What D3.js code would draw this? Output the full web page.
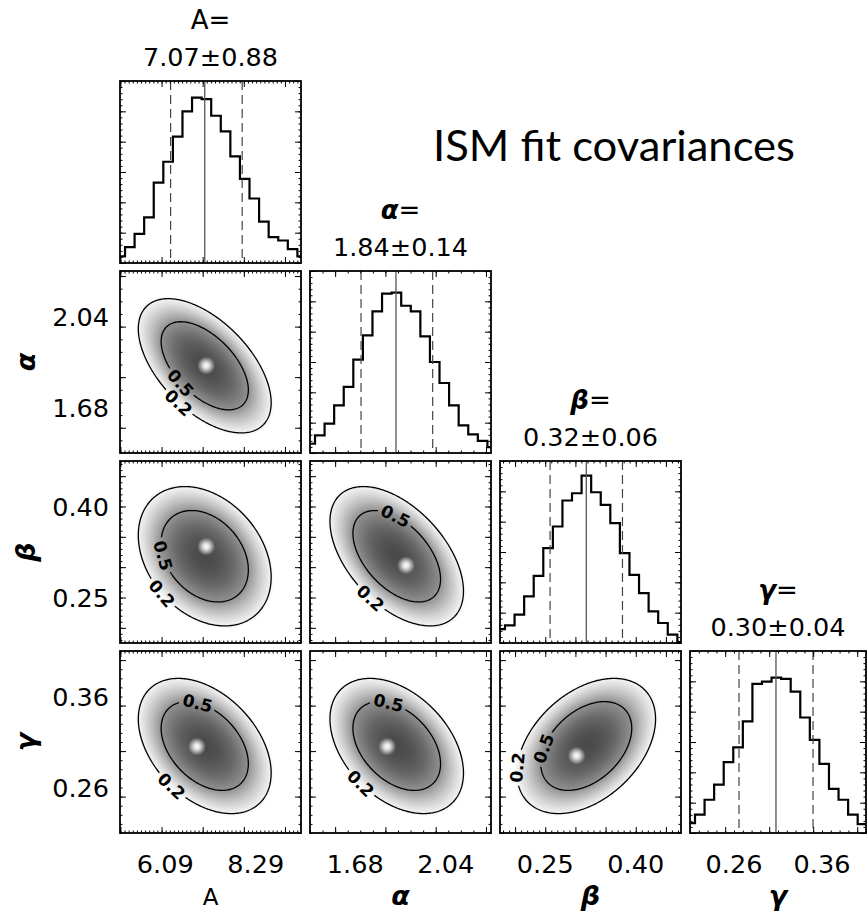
<!DOCTYPE html>
<html><head><meta charset="utf-8">
<script src="https://cdnjs.cloudflare.com/ajax/libs/d3/7.8.5/d3.min.js"></script>
<style>body{margin:0;background:#fff}svg{display:block}</style>
</head><body>
<svg id="c" width="867" height="913"></svg>
<script>
// ---------------- DATA ----------------
const paramNames = ["A", "α", "β", "γ"];
const paramGreek = [false, true, true, true];
const domains = [[4.99, 9.39], [1.50, 2.22], [0.175, 0.475], [0.21, 0.41]];
const tickLabelValues = [[6.09, 8.29], [1.68, 2.04], [0.25, 0.40], [0.26, 0.36]];
const tickLabelText = [["6.09", "8.29"], ["1.68", "2.04"], ["0.25", "0.40"], ["0.26", "0.36"]];
const majorStep = [1, 0.2, 0.05, 0.05];
const minorStep = [0.1, 0.05, 0.01, 0.01];
const summaryText = ["7.07±0.88", "1.84±0.14", "0.32±0.06", "0.30±0.04"];
const medians = [7.05, 1.842, 0.318, 0.3077];
const lowerQ = [6.22, 1.703, 0.258, 0.2657];
const upperQ = [7.96, 1.988, 0.378, 0.3498];
const binStart = [4.879, 1.4818, 0.1674, 0.2048];
const binWidth = [0.2328, 0.0381, 0.01587, 0.010875];
const histA     = [218, 524, 960, 1506, 2651, 3338, 4168, 4997, 5455, 5400, 4855, 4342, 3513, 2771, 2127, 1364, 851, 742, 458, 218];
const histAlpha = [305, 584, 966, 1571, 2177, 3077, 3879, 4669, 5253, 5286, 4855, 4669, 3846, 3000, 2307, 1571, 911, 616, 398, 196];
const histBeta  = [458, 584, 933, 1538, 2215, 3126, 3840, 4697, 4937, 5520, 4970, 4555, 3949, 2962, 2247, 1647, 1042, 660, 273, 30];
const histGamma = [327, 606, 1096, 1593, 2335, 2820, 3677, 4915, 4991, 5122, 5079, 4664, 3808, 3071, 2280, 1456, 1096, 606, 295];
const histCountMax = 6000;
const histCountMajor = 1000;
const histCountMinor = 200;
// 2D panels (x param, y param)
const pairX = [0, 0, 1, 0, 1, 2];
const pairY = [1, 2, 2, 3, 3, 3];
const pairRho = [-0.55, -0.30, -0.50, -0.40, -0.40, 0.40];
const densitySigma = [0.90, 0.148, 0.064, 0.0414];
const densityCenter = [7.05, 1.845, 0.318, 0.3056];
const peakX = [7.086, 7.086, 1.882, 6.86, 1.807, 0.302];
const peakY = [1.846, 0.334, 0.303, 0.305, 0.305, 0.295];
const contourLevels = [0.2, 0.5];
const contourLabels = ["0.2", "0.5"];
const titleText = "ISM fit covariances";

// ---------------- LAYOUT ----------------
const W = 867, H = 913;
const colLeft = [120, 310, 500, 690], colWidth = [181, 181, 181, 176];
const rowTop = [81, 271, 461, 651], rowHeight = 182;
// label anchor direction (deg, screen) for [0.2, 0.5] contour labels
const labelDir = [[125, 145], [139, 190], [122, -92], [130, -100], [134, -101], [163, 177]];
const FONT = "'DejaVu Sans', sans-serif";

const svg = d3.select("#c");
const defs = svg.append("defs");
const xS = domains.map((d, i) => d3.scaleLinear().domain(d).range([colLeft[i], colLeft[i] + colWidth[i]]));
const yS = domains.map((d, i) => d3.scaleLinear().domain(d).range([rowTop[i] + rowHeight, rowTop[i]]));

function tickVals(domain, step) {
  const a = Math.ceil(domain[0] / step - 1e-6), b = Math.floor(domain[1] / step + 1e-6);
  return d3.range(a, b + 1).map(k => +(k * step).toFixed(6));
}
function addAxes(g, xs, ys, xM, xm, yM, ym, x0, x1, y0, y1) {
  const specs = [
    [d3.axisBottom(xs), `translate(0,${y1})`, xM, xm],
    [d3.axisTop(xs), `translate(0,${y0})`, xM, xm],
    [d3.axisLeft(ys), `translate(${x0},0)`, yM, ym],
    [d3.axisRight(ys), `translate(${x1},0)`, yM, ym]];
  specs.forEach(([ax, tr, M, m]) => {
    [[m, 2.5], [M, 6]].forEach(([vals, len]) => {
      const a = g.append("g").attr("transform", tr)
        .call(ax.tickValues(vals).tickSize(-len).tickSizeOuter(0).tickFormat(""));
      a.select(".domain").remove();
      a.selectAll("line").attr("stroke", "#000").attr("stroke-width", 1);
    });
  });
}
function clipFor(id, x0, y0, w, h) {
  defs.append("clipPath").attr("id", id).append("rect").attr("x", x0).attr("y", y0).attr("width", w).attr("height", h);
  return `url(#${id})`;
}

const rg = defs.append("radialGradient").attr("id", "spot");
rg.append("stop").attr("offset", "0%").attr("stop-color", "#fff").attr("stop-opacity", 1);
rg.append("stop").attr("offset", "35%").attr("stop-color", "#fff").attr("stop-opacity", 0.8);
rg.append("stop").attr("offset", "100%").attr("stop-color", "#fff").attr("stop-opacity", 0);

// ---------------- HISTOGRAMS ----------------
const hists = [histA, histAlpha, histBeta, histGamma];
hists.forEach((counts, i) => {
  const x0 = colLeft[i], w = colWidth[i], y0 = rowTop[i], h = rowHeight;
  const xs = xS[i];
  const ys = d3.scaleLinear().domain([0, histCountMax]).range([y0 + h, y0]);
  const g = svg.append("g");
  const clip = clipFor("hc" + i, x0, y0, w, h);
  const pts = [[binStart[i], 0]];
  counts.forEach((c, k) => pts.push([binStart[i] + k * binWidth[i], c]));
  pts.push([binStart[i] + counts.length * binWidth[i], 0]);
  const line = d3.line().x(d => xs(d[0])).y(d => ys(d[1])).curve(d3.curveStepAfter);
  const gc = g.append("g").attr("clip-path", clip);
  gc.append("path").attr("d", line(pts)).attr("fill", "none").attr("stroke", "#000").attr("stroke-width", 2.2);
  [lowerQ[i], upperQ[i]].forEach(v => {
    gc.append("line").attr("x1", xs(v)).attr("x2", xs(v)).attr("y1", y0).attr("y2", y0 + h)
      .attr("stroke", "#444").attr("stroke-width", 1.2).attr("stroke-dasharray", "9,5");
  });
  gc.append("line").attr("x1", xs(medians[i])).attr("x2", xs(medians[i])).attr("y1", y0).attr("y2", y0 + h)
    .attr("stroke", "#555").attr("stroke-width", 1.3);
  addAxes(g, xs, ys, tickVals(domains[i], majorStep[i]), tickVals(domains[i], minorStep[i]),
    d3.range(0, histCountMax + 1, histCountMajor), d3.range(0, histCountMax + 1, histCountMinor),
    x0, x0 + w, y0, y0 + h);
  g.append("rect").attr("x", x0).attr("y", y0).attr("width", w).attr("height", h)
    .attr("fill", "none").attr("stroke", "#000").attr("stroke-width", 1.8);
  const cx = x0 + w / 2;
  const t1 = g.append("text").attr("x", cx).attr("y", y0 - 52).attr("text-anchor", "middle")
    .attr("font-family", FONT).attr("font-size", 26);
  t1.append("tspan").text(paramNames[i])
    .attr("font-weight", paramGreek[i] ? "bold" : "normal").attr("font-style", paramGreek[i] ? "italic" : "normal");
  t1.append("tspan").text("=");
  g.append("text").attr("x", cx).attr("y", y0 - 15).attr("text-anchor", "middle")
    .attr("font-family", FONT).attr("font-size", 25.5).text(summaryText[i]);
});

// ---------------- 2D DENSITY PANELS ----------------
const grayScale = d3.scaleLinear().domain([0, 0.17, 0.2, 0.3, 0.5, 0.75, 1])
  .range([255, 255, 243, 210, 145, 104, 74]).clamp(true);

pairX.forEach((pi, p) => {
  const pj = pairY[p];
  const xs = xS[pi], ys = yS[pj];
  const x0 = colLeft[pi], w = colWidth[pi], y0 = rowTop[pj], h = rowHeight;
  const sx = densitySigma[pi], sy = densitySigma[pj], rho = pairRho[p];
  const mx = densityCenter[pi], my = densityCenter[pj];
  const dens = (vx, vy) => {
    const zx = (vx - mx) / sx, zy = (vy - my) / sy;
    const q = (zx * zx - 2 * rho * zx * zy + zy * zy) / (1 - rho * rho);
    return Math.exp(-0.5 * q);
  };
  const values = new Float64Array(w * h);
  const canvas = document.createElement("canvas");
  canvas.width = w; canvas.height = h;
  const ctx = canvas.getContext("2d");
  const img = ctx.createImageData(w, h);
  for (let j = 0; j < h; j++) {
    const vy = ys.invert(y0 + j + 0.5);
    for (let i = 0; i < w; i++) {
      const d = dens(xs.invert(x0 + i + 0.5), vy);
      values[i + j * w] = d;
      const gv = Math.round(grayScale(d));
      const k = 4 * (i + j * w);
      img.data[k] = img.data[k + 1] = img.data[k + 2] = gv; img.data[k + 3] = 255;
    }
  }
  ctx.putImageData(img, 0, 0);
  const g = svg.append("g");
  const clip = clipFor("pc" + p, x0, y0, w, h);
  const gc = g.append("g").attr("clip-path", clip);
  gc.append("image").attr("x", x0).attr("y", y0).attr("width", w).attr("height", h)
    .attr("href", canvas.toDataURL());
  gc.append("circle").attr("cx", xs(peakX[p])).attr("cy", ys(peakY[p])).attr("r", 9).attr("fill", "url(#spot)");

  const contours = d3.contours().size([w, h]).thresholds(contourLevels)(values);
  const cxp = xs(mx), cyp = ys(my);
  const mask = defs.append("mask").attr("id", "mk" + p).attr("maskUnits", "userSpaceOnUse")
    .attr("x", 0).attr("y", 0).attr("width", W).attr("height", H);
  mask.append("rect").attr("x", 0).attr("y", 0).attr("width", W).attr("height", H).attr("fill", "#fff");
  const path = d3.geoPath(d3.geoIdentity().translate([x0, y0]));
  const cg = gc.append("g").attr("mask", `url(#mk${p})`);
  contours.forEach((c, k) => {
    cg.append("path").attr("d", path(c)).attr("fill", "none").attr("stroke", "#000").attr("stroke-width", 1.3);
    let ring = null, best = 0;
    c.coordinates.forEach(poly => { if (poly[0].length > best) { best = poly[0].length; ring = poly[0]; } });
    if (!ring) return;
    const pts = ring.map(q => [q[0] + x0, q[1] + y0]);
    const target = labelDir[p][k] * Math.PI / 180;
    let bi = 0, bd = 1e9;
    pts.forEach((q, idx) => {
      const a = Math.atan2(q[1] - cyp, q[0] - cxp);
      let dd = Math.abs(a - target); dd = Math.min(dd, 2 * Math.PI - dd);
      if (dd < bd) { bd = dd; bi = idx; }
    });
    const nP = pts.length;
    const pa = pts[(bi - 4 + nP) % nP], pb = pts[(bi + 4) % nP];
    let ang = Math.atan2(pb[1] - pa[1], pb[0] - pa[0]) * 180 / Math.PI;
    if (ang > 90) ang -= 180;
    if (ang <= -90) ang += 180;
    const [lx, ly] = pts[bi];
    const t = g.append("text").attr("transform", `translate(${lx},${ly}) rotate(${ang})`)
      .attr("text-anchor", "middle").attr("dy", "0.36em")
      .attr("font-family", FONT).attr("font-size", 17).attr("font-weight", "bold").text(contourLabels[k]);
    const L = t.node().getComputedTextLength() + 6;
    mask.append("rect").attr("x", -L / 2).attr("y", -8).attr("width", L).attr("height", 16)
      .attr("transform", `translate(${lx},${ly}) rotate(${ang})`).attr("fill", "#000");
  });
  addAxes(g, xs, ys, tickVals(domains[pi], majorStep[pi]), tickVals(domains[pi], minorStep[pi]),
    tickVals(domains[pj], majorStep[pj]), tickVals(domains[pj], minorStep[pj]), x0, x0 + w, y0, y0 + h);
  g.append("rect").attr("x", x0).attr("y", y0).attr("width", w).attr("height", h)
    .attr("fill", "none").attr("stroke", "#000").attr("stroke-width", 1.8);
});

// ---------------- AXIS LABELS ----------------
paramNames.forEach((nm, i) => {
  tickLabelValues[i].forEach((v, k) => {
    svg.append("text").attr("x", xS[i](v)).attr("y", 873).attr("text-anchor", "middle")
      .attr("font-family", FONT).attr("font-size", 25.5).text(tickLabelText[i][k]);
  });
  svg.append("text").attr("x", colLeft[i] + colWidth[i] / 2).attr("y", 905).attr("text-anchor", "middle")
    .attr("font-family", FONT).attr("font-size", paramGreek[i] ? 27 : 23)
    .attr("font-weight", paramGreek[i] ? "bold" : "normal").attr("font-style", paramGreek[i] ? "italic" : "normal")
    .text(nm);
});
[1, 2, 3].forEach(j => {
  tickLabelValues[j].forEach((v, k) => {
    svg.append("text").attr("x", 109).attr("y", yS[j](v)).attr("dy", "0.36em").attr("text-anchor", "end")
      .attr("font-family", FONT).attr("font-size", 25.5).text(tickLabelText[j][k]);
  });
  const cy = rowTop[j] + rowHeight / 2;
  svg.append("text").attr("transform", `translate(25,${cy}) rotate(-90)`).attr("text-anchor", "middle")
    .attr("dy", "0.36em").attr("font-family", FONT).attr("font-size", 27)
    .attr("font-weight", "bold").attr("font-style", "italic").text(paramNames[j]);
});

svg.append("text").attr("x", 614).attr("y", 161).attr("text-anchor", "middle")
  .attr("font-family", "Lato, 'Open Sans', sans-serif").attr("font-size", 42)
  .attr("textLength", 362).attr("lengthAdjust", "spacingAndGlyphs").text(titleText);
</script>
</body></html>
